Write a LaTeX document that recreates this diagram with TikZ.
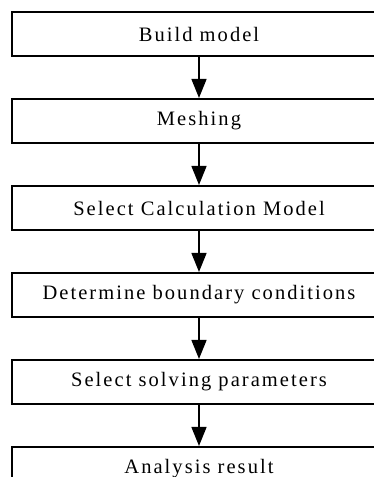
\documentclass[tikz,border=0pt]{standalone}
\usepackage{fontspec}
\setmainfont{Liberation Serif}
\newfontfamily\boxfont[LetterSpace=10]{Liberation Serif}
\usetikzlibrary{positioning,arrows.meta}
\begin{document}
\begin{tikzpicture}[x=1pt,y=1pt]
    \tikzset{stepbox/.style = {draw, rectangle, line width=1.6pt, minimum width=374pt, minimum height=44.5pt, inner sep=0pt, font=\boxfont\fontsize{20.5}{24}\selectfont}}
    \tikzset{la/.style = {line width=1.6pt, -{Triangle[length=19pt,width=15pt]}}}
    \useasboundingbox (0,0) rectangle (374,-477);
    \node[stepbox] (build) at (199,-34) {Build model};
    \node[stepbox, below=40.9pt of build] (mesh) {Meshing};
    \node[stepbox, below=40.9pt of mesh] (calc) {Select Calculation Model};
    \node[stepbox, below=40.9pt of calc] (bound) {Determine boundary conditions};
    \node[stepbox, below=40.9pt of bound] (solve) {Select solving parameters};
    \node[stepbox, below=40.9pt of solve] (result) {Analysis result};
    \draw[la] (build) -- (mesh);
    \draw[la] (mesh) -- (calc);
    \draw[la] (calc) -- (bound);
    \draw[la] (bound) -- (solve);
    \draw[la] (solve) -- (result);
\end{tikzpicture}
\end{document}
